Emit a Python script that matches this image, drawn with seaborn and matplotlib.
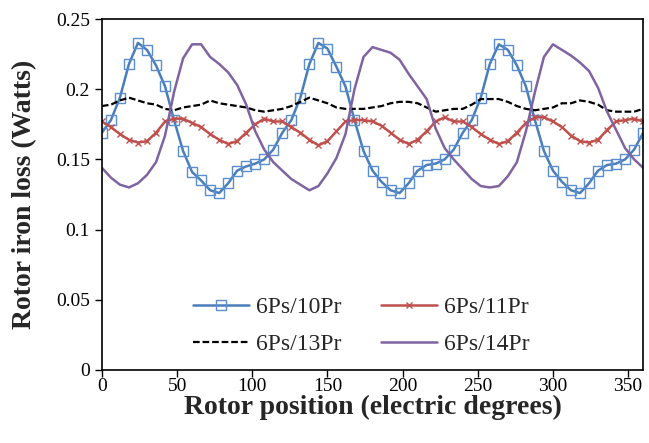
import numpy as np
import pandas as pd
import seaborn as sns
import matplotlib
matplotlib.use("Agg")
import matplotlib.pyplot as plt

# rotor position, sampled every 6 electric degrees
position = list(range(0, 361, 6))

loss_10pr = [0.169, 0.178, 0.194, 0.218, 0.233, 0.228, 0.217, 0.202, 0.178, 0.156,
             0.141, 0.135, 0.128, 0.126, 0.133, 0.142, 0.145, 0.147, 0.150, 0.157,
             0.169, 0.178, 0.194, 0.218, 0.233, 0.229, 0.216, 0.202, 0.178, 0.156,
             0.142, 0.134, 0.128, 0.126, 0.133, 0.142, 0.146, 0.147, 0.150, 0.157,
             0.169, 0.178, 0.194, 0.218, 0.232, 0.228, 0.217, 0.202, 0.178, 0.156,
             0.142, 0.134, 0.128, 0.126, 0.133, 0.142, 0.146, 0.147, 0.150, 0.157,
             0.169]

loss_11pr = [0.177, 0.173, 0.168, 0.164, 0.162, 0.163, 0.169, 0.177, 0.179, 0.179,
             0.176, 0.173, 0.168, 0.164, 0.161, 0.163, 0.169, 0.175, 0.179, 0.177,
             0.177, 0.173, 0.169, 0.164, 0.160, 0.163, 0.170, 0.177, 0.178, 0.178,
             0.177, 0.174, 0.169, 0.164, 0.161, 0.164, 0.170, 0.177, 0.180, 0.177,
             0.177, 0.173, 0.168, 0.164, 0.161, 0.163, 0.169, 0.176, 0.180, 0.180,
             0.177, 0.173, 0.167, 0.163, 0.162, 0.164, 0.171, 0.177, 0.178, 0.179,
             0.177]

loss_13pr = [0.188, 0.189, 0.192, 0.194, 0.192, 0.190, 0.189, 0.186, 0.185, 0.187,
             0.188, 0.189, 0.192, 0.190, 0.189, 0.188, 0.187, 0.185, 0.184, 0.185,
             0.186, 0.188, 0.191, 0.194, 0.192, 0.190, 0.187, 0.186, 0.186, 0.186,
             0.187, 0.188, 0.190, 0.191, 0.191, 0.190, 0.187, 0.184, 0.185, 0.186,
             0.186, 0.189, 0.193, 0.193, 0.193, 0.191, 0.188, 0.186, 0.185, 0.186,
             0.187, 0.190, 0.190, 0.192, 0.191, 0.189, 0.185, 0.184, 0.184, 0.184,
             0.186]

loss_14pr = [0.144, 0.137, 0.132, 0.130, 0.133, 0.139, 0.148, 0.167, 0.198, 0.222,
             0.232, 0.232, 0.223, 0.218, 0.212, 0.203, 0.189, 0.170, 0.157, 0.148,
             0.142, 0.136, 0.132, 0.128, 0.131, 0.140, 0.151, 0.168, 0.200, 0.223,
             0.230, 0.228, 0.226, 0.221, 0.211, 0.202, 0.193, 0.172, 0.158, 0.150,
             0.143, 0.136, 0.131, 0.130, 0.131, 0.138, 0.148, 0.170, 0.198, 0.223,
             0.232, 0.228, 0.224, 0.219, 0.213, 0.201, 0.184, 0.171, 0.158, 0.150,
             0.144]

labels = ["6Ps/10Pr", "6Ps/11Pr", "6Ps/13Pr", "6Ps/14Pr"]

df = pd.DataFrame({"position": position,
                   labels[0]: loss_10pr, labels[1]: loss_11pr,
                   labels[2]: loss_13pr, labels[3]: loss_14pr})

sns.set_style("white")
plt.rcParams["font.family"] = ["Liberation Serif", "DejaVu Serif"]

fig = plt.figure(figsize=(6.49, 4.43), dpi=100)
ax = fig.add_axes([0.157, 0.165, 0.834, 0.792])

styles = {
    labels[0]: dict(color="#4a7ebb", marker="s", markersize=7, markerfacecolor="none",
                    markeredgecolor="#5b8ed0", markeredgewidth=1.0, linestyle="-", linewidth=1.8),
    labels[1]: dict(color="#c0504d", marker="x", markersize=5, markeredgewidth=1.0,
                    markeredgecolor="#c0504d", linestyle="-", linewidth=1.8),
    labels[2]: dict(color="black", linestyle=(0, (3, 1.3)), linewidth=1.6),
    labels[3]: dict(color="#8064a2", linestyle="-", linewidth=1.8),
}

for name in labels:
    sns.lineplot(data=df, x="position", y=name, ax=ax, label=name, **styles[name])

ax.set_xlim(0, 360)
ax.set_ylim(0, 0.25)
ax.set_xticks(range(0, 361, 50))
ax.set_yticks([0, 0.05, 0.1, 0.15, 0.2, 0.25])
ax.set_yticklabels(["0", "0.05", "0.1", "0.15", "0.2", "0.25"])
ax.tick_params(axis="both", direction="out", length=5, width=1, labelsize=14,
               bottom=True, left=True, colors="black")
ax.tick_params(axis="x", pad=1)
for s in ax.spines.values():
    s.set_color("black")
    s.set_linewidth(1.2)

ax.set_xlabel("Rotor position (electric degrees)", fontsize=20, fontweight="bold", labelpad=0)
ax.set_ylabel("Rotor iron loss (Watts)", fontsize=20, fontweight="bold", labelpad=14)

# legend rows: 10Pr/11Pr on top, 13Pr/14Pr below
handles, names = ax.get_legend_handles_labels()
order = [0, 2, 1, 3]
ax.legend([handles[i] for i in order], [names[i] for i in order],
          ncol=2, loc="lower center", bbox_to_anchor=(0.479, -0.019), frameon=False,
          fontsize=17, handlelength=2.35, columnspacing=1.7, labelspacing=0.67,
          handletextpad=0.3)

fig.savefig("out.png", dpi=100)
